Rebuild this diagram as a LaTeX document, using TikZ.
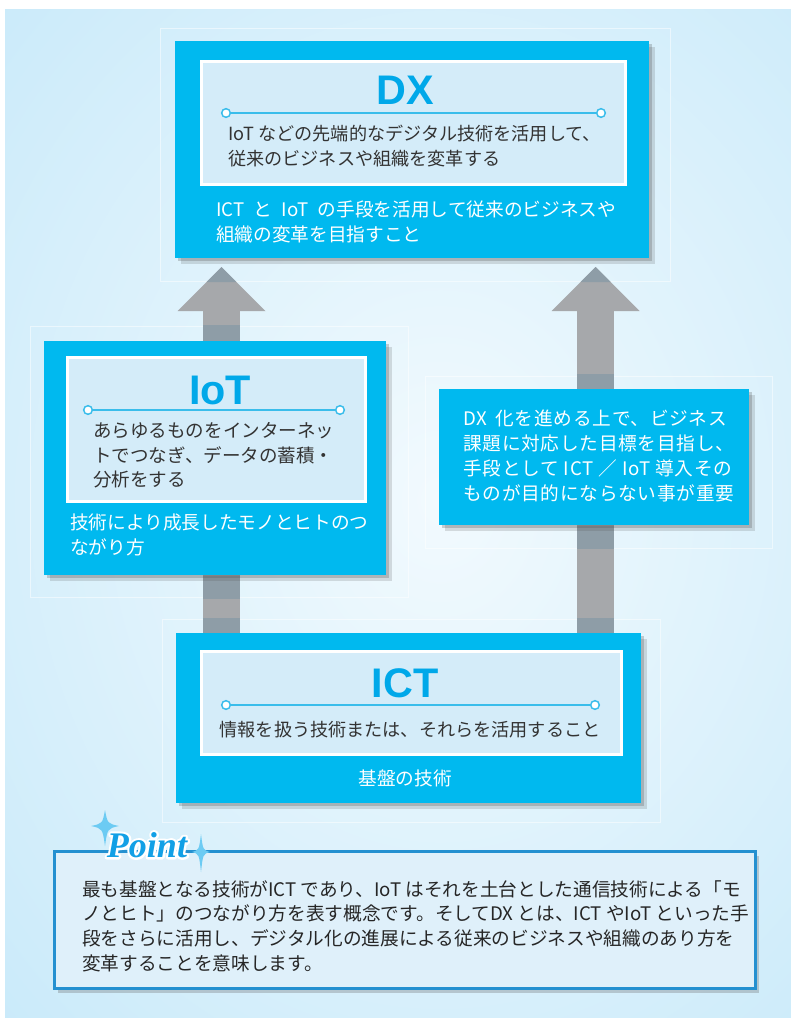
\documentclass[tikz,border=0pt]{standalone}
\usepackage{fontspec}
\usetikzlibrary{shadows,calc}
\newfontfamily\jp{Noto Sans CJK JP}
\newfontfamily\ttlfont{Liberation Sans}
\newfontfamily\pointfont{Liberation Serif}
\definecolor{bg}{HTML}{BDE5F8}
\definecolor{bgc}{HTML}{F2FAFE}
\definecolor{boxcyan}{HTML}{00B9EF}
\definecolor{innerfill}{HTML}{D4ECF9}
\definecolor{titleblue}{HTML}{00A8E9}
\definecolor{ringblue}{HTML}{3ABDEB}
\definecolor{textdark}{HTML}{333333}
\definecolor{arrowgray}{HTML}{A6A8AB}
\definecolor{banddark}{HTML}{8E9DA7}
\definecolor{pointfill}{HTML}{DFF0FA}
\definecolor{pointborder}{HTML}{2490D0}
\definecolor{pointblue}{HTML}{12A0E6}
\definecolor{starblue}{HTML}{6CCBF3}
\pgfdeclarelayer{bgl}
\pgfdeclarelayer{back}
\pgfsetlayers{bgl,back,main}
\newcommand\outlined[2]{%
  \makebox[0pt][l]{\color{#1}\special{pdf:literal direct 1 Tr 3.4 w 1 j 1 J}#2\special{pdf:literal direct 0 Tr}}#2}
\tikzset{
  softshadow/.style={drop shadow={shadow xshift=2pt,shadow yshift=-2pt,opacity=.25,fill=black!70},
                     drop shadow={shadow xshift=4.5pt,shadow yshift=-4.5pt,opacity=.18,fill=black!70}},
  mainbox/.style={fill=boxcyan, inner sep=0pt, anchor=north west, softshadow},
  innerbox/.style={fill=innerfill, draw=white, line width=2.25pt, inner sep=0pt, anchor=north west},
  ttl/.style={font=\ttlfont\bfseries\fontsize{31}{31}\selectfont, text=titleblue, inner sep=0pt},
  body/.style={font=\jp\fontsize{13.6}{18.6}\selectfont, text=textdark, align=left, inner sep=0pt, anchor=north west},
  wbody/.style={body, font=\jp\fontsize{14}{18.6}\selectfont, text=white},
  ring/.style={circle, draw=ringblue, fill=white, line width=1.1pt, minimum size=6.5pt, inner sep=0pt},
  ruleline/.style={draw=ringblue, line width=1.3pt},
  shaft/.style={draw=arrowgray, line width=27.75pt},
  band/.style={fill=banddark},
  faint/.style={draw=white, opacity=.5, line width=.6pt},
  star/.style={fill=starblue},
}
\begin{document}
\begin{tikzpicture}[x=0.75pt,y=-0.75pt]
\useasboundingbox (0,0) rectangle (791,1018);
\begin{pgfonlayer}{bgl}
  \fill[white] (0,0) rectangle (791,1018);
  \fill[bg] (5,9) rectangle (791,1018);
  \begin{scope}
    \clip (5,9) rectangle (791,1018);
    \shade[inner color=bgc, outer color=bg] (440,500) ellipse [x radius=820, y radius=980];
  \end{scope}
  \draw[faint] (160,28) rectangle (670,281);
  \draw[faint] (30,326) rectangle (408,597);
  \draw[faint] (425,376) rectangle (772,548);
  \draw[faint] (162,619) rectangle (660,822);
\end{pgfonlayer}

% DX
\node[mainbox, minimum width=474*0.75pt, minimum height=217*0.75pt] (dx) at (175,41) {};
\node[innerbox, minimum width=424*0.75pt, minimum height=123*0.75pt] (dxin) at (200,60) {};
\node[ttl] (dxt) at (405,90) {DX};
\node[ring] (dxl) at (226,113) {};
\node[ring] (dxr) at (601,113) {};
\draw[ruleline] (dxl) -- (dxr);
\node[body] (dxd) at (228,125) {IoT などの先端的なデジタル技術を活用して、\\従来のビジネスや組織を変革する};
\node[wbody] (dxw) at (216,201) {ICT\hspace{0.5em}と\hspace{0.5em}IoT\hspace{0.5em}の手段を活用して従来のビジネスや\\組織の変革を目指すこと};

% IoT
\node[mainbox, minimum width=342*0.75pt, minimum height=234*0.75pt] (iot) at (44,341) {};
\node[innerbox, minimum width=298*0.75pt, minimum height=144*0.75pt] (iotin) at (66,356) {};
\node[ttl] (iott) at (220,390) {IoT};
\node[ring] (iotl) at (88,410) {};
\node[ring] (iotr) at (340,410) {};
\draw[ruleline] (iotl) -- (iotr);
\node[body, font=\jp\fontsize{13.9}{18.6}\selectfont] (iotd) at (93,422) {あらゆるものをインターネッ\\トでつなぎ、データの蓄積・\\分析をする};
\node[wbody] (iotw) at (70,513.5) {技術により成長したモノとヒトのつ\\ながり方};

% note
\node[mainbox, minimum width=310*0.75pt, minimum height=136*0.75pt] (note) at (439,389) {};
\node[wbody, font=\jp\fontsize{14}{18.6}\selectfont\addfontfeature{LetterSpace=4}] (notet) at (463,410) {DX\hspace{0.45em}化を進める上で、ビジネス\\課題に対応した目標を目指し、\\手段として ICT ／ IoT 導入その\\ものが目的にならない事が重要};

% ICT
\node[mainbox, minimum width=465*0.75pt, minimum height=170*0.75pt] (ict) at (176,633) {};
\node[innerbox, minimum width=420*0.75pt, minimum height=103*0.75pt] (ictin) at (200,650) {};
\node[ttl] (ictt) at (405,683) {ICT};
\node[ring] (ictl) at (226,705) {};
\node[ring] (ictr) at (595,705) {};
\draw[ruleline] (ictl) -- (ictr);
\node[body, anchor=center] (ictd) at (410,730) {情報を扱う技術または、それらを活用すること};
\node[wbody, anchor=center] (ictw) at (405,778) {基盤の技術};

% arrows (behind boxes)
\coordinate (ltip) at (221.5,267);
\coordinate (lbase) at (221.5,311);
\coordinate (rtip) at (595.5,267);
\coordinate (rbase) at (595.5,311);
\begin{pgfonlayer}{back}
  \draw[shaft] (ict.north -| ltip) -- (lbase);
  \draw[shaft] (ict.north -| rtip) -- (rbase);
  \fill[arrowgray] (ltip) -- ($(lbase)+(44,0)$) -- ($(lbase)+(-44,0)$) -- cycle;
  \fill[arrowgray] (rtip) -- ($(rbase)+(44,0)$) -- ($(rbase)+(-44,0)$) -- cycle;
  \fill[band] (ltip) -- ($(ltip)+(15,15)$) -- ($(ltip)+(-15,15)$) -- cycle;
  \fill[band] (rtip) -- ($(rtip)+(15,15)$) -- ($(rtip)+(-15,15)$) -- cycle;
  \fill[band] ($(iot.north -| ltip)+(-18.5,-16)$) rectangle ($(iot.north -| ltip)+(18.5,0)$);
  \fill[band] ($(iot.south -| ltip)+(-18.5,0)$) rectangle ($(iot.south -| ltip)+(18.5,23)$);
  \fill[band] ($(ict.north -| ltip)+(-18.5,-15)$) rectangle ($(ict.north -| ltip)+(18.5,0)$);
  \fill[band] ($(note.north -| rtip)+(-18.5,-15)$) rectangle ($(note.north -| rtip)+(18.5,0)$);
  \fill[band] ($(note.south -| rtip)+(-18.5,0)$) rectangle ($(note.south -| rtip)+(18.5,23)$);
  \fill[band] ($(ict.north -| rtip)+(-18.5,-15)$) rectangle ($(ict.north -| rtip)+(18.5,0)$);
\end{pgfonlayer}

% Point box
\node[fill=pointfill, draw=pointborder, line width=2pt, inner sep=0pt, anchor=north west,
      minimum width=701*0.75pt, minimum height=137*0.75pt,
      drop shadow={shadow xshift=3pt,shadow yshift=-3.5pt,opacity=.3,fill=black!60}] (pbox) at (53,850) {};
\node[body, font=\jp\fontsize{14}{18.6}\selectfont, text=black!85] (ptext) at (82,880) {最も基盤となる技術がICT であり、IoT はそれを土台とした通信技術による「モ\\ノとヒト」のつながり方を表す概念です。そしてDX とは、ICT やIoT といった手\\段をさらに活用し、デジタル化の進展による従来のビジネスや組織のあり方を\\変革することを意味します。};
\fill[star] (105,810) .. controls (107.5,823.5) .. (119,826) .. controls (107.5,828.5) .. (105,846) .. controls (102.5,828.5) .. (91,826) .. controls (102.5,823.5) .. cycle;
\fill[star] (201,834) .. controls (203,850) .. (210,852) .. controls (203,854) .. (201,872) .. controls (199,854) .. (192,852) .. controls (199,850) .. cycle;
\node[inner sep=0pt, font=\pointfont\bfseries\itshape\fontsize{27}{27}\selectfont, text=pointblue] (plabel) at (147,845) {\outlined{white}{Point}};
\end{tikzpicture}
\end{document}
